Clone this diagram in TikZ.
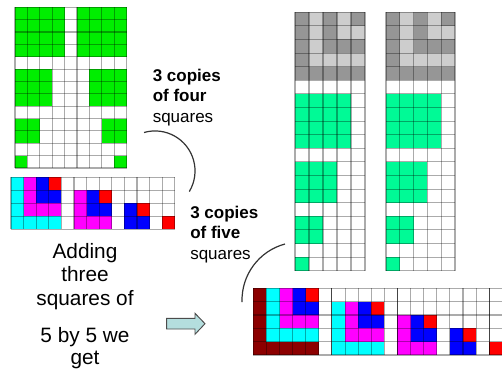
\documentclass[tikz,border=0pt]{standalone}
\usepackage{fontspec}
\setmainfont{Liberation Sans}

\definecolor{sqgreen}{RGB}{0,238,0}
\definecolor{sqmint}{RGB}{0,250,150}
\definecolor{stair1}{RGB}{255,0,0}
\definecolor{stair2}{RGB}{0,0,255}
\definecolor{stair3}{RGB}{255,0,255}
\definecolor{stair4}{RGB}{0,255,255}
\definecolor{stair5}{RGB}{140,0,0}
\definecolor{shade1}{RGB}{150,150,150}
\definecolor{shade2}{RGB}{205,205,205}
\definecolor{shade3}{RGB}{150,150,150}
\definecolor{shade4}{RGB}{205,205,205}
\definecolor{shade5}{RGB}{150,150,150}
\definecolor{arrowfill}{RGB}{180,222,222}

% nested squares, top right corner at column #1, row #2
\newcommand{\stairs}[4]{%
  \foreach \m in {#3,...,1}
    \fill[fill=#4\m] ({#1-\m},-#2) rectangle (#1,{-#2-\m});
}
% lines of a #1 x #2 grid
\newcommand{\cellgrid}[2]{%
  \foreach \i in {0,...,#1}
    \draw[gridline] (\i,0) -- (\i,-#2);
  \foreach \j in {0,...,#2}
    \draw[gridline] (0,-\j) -- (#1,-\j);
}

\tikzset{
  gridline/.style={draw=black, draw opacity=0.33, line width=0.8pt},
  note/.style={align=left, inner sep=0pt,
    font=\fontsize{12.75}{15.4}\selectfont},
  bignote/.style={align=center, inner sep=0pt,
    font=\fontsize{15.6}{17.5}\selectfont},
  link/.style={draw=black!80, line width=0.9pt},
  blockarrow/.style={draw=black!70, fill=arrowfill, line width=0.7pt}
}

\begin{document}
\begin{tikzpicture}[x=0.75pt, y=0.75pt]
\useasboundingbox (0,0) rectangle (502,-374);
\clip (0,0) rectangle (502,-374);

% two copies of four squares
\begin{scope}[shift={(15,-7.3)}, x=9.3pt, y=9.27pt]
  \fill[sqgreen] (0,0) rectangle (4,-4);
  \fill[sqgreen] (5,0) rectangle (9,-4);
  \fill[sqgreen] (0,-5) rectangle (3,-8);
  \fill[sqgreen] (6,-5) rectangle (9,-8);
  \fill[sqgreen] (0,-9) rectangle (2,-11);
  \fill[sqgreen] (7,-9) rectangle (9,-11);
  \fill[sqgreen] (0,-12) rectangle (1,-13);
  \fill[sqgreen] (8,-12) rectangle (9,-13);
  \cellgrid{9}{13}
\end{scope}

% third copy as staircases
\begin{scope}[shift={(11,-177.3)}, x=9.45pt, y=9.7pt]
  \stairs{4}{0}{4}{stair}
  \stairs{8}{1}{3}{stair}
  \stairs{11}{2}{2}{stair}
  \stairs{13}{3}{1}{stair}
  \cellgrid{13}{4}
\end{scope}

% tall columns
\foreach \xo/\w in {295/10.5, 386/10.35}{
  \begin{scope}[shift={(\xo,-12.3)}, x=\w pt, y=10.2pt]
    \stairs{5}{0}{5}{shade}
    \fill[sqmint] (0,-6) rectangle (4,-10);
    \fill[sqmint] (0,-11) rectangle (3,-14);
    \fill[sqmint] (0,-15) rectangle (2,-17);
    \fill[sqmint] (0,-18) rectangle (1,-19);
    \cellgrid{5}{19}
  \end{scope}
}

% three copies of five squares
\begin{scope}[shift={(253.3,-288.3)}, x=9.83pt, y=10pt]
  \stairs{5}{0}{5}{stair}
  \stairs{10}{1}{4}{stair}
  \stairs{14}{2}{3}{stair}
  \stairs{17}{3}{2}{stair}
  \stairs{19}{4}{1}{stair}
  \cellgrid{19}{5}
  \foreach \i in {6,11,18}
    \draw[gridline, draw opacity=0.6] (\i,0) -- (\i,-5);
\end{scope}

% base anchor sits on the last line
\node[note, anchor=base west] (four) at (152.5,-122.5)
  {\textbf{3 copies}\\\textbf{of four}\\squares};
\node[note, anchor=base west] (five) at (190,-259.5)
  {\textbf{3 copies}\\\textbf{of five}\\squares};
\node[bignote, anchor=base] (adding) at (85,-305)
  {Adding\\three\\squares of};
\node[bignote, anchor=base, font=\fontsize{15.6}{15.8}\selectfont]
  (bysize) at (85,-364) {5 by 5 we\\get};

\coordinate (fourend) at (144,-132.5);
\coordinate (fiveend) at (285,-244);
\draw[link] (fourend) arc[start angle=106, end angle=-31, radius=40];
\draw[link] (fiveend) arc[start angle=105, end angle=182, radius=58];

\draw[blockarrow] (166.7,-318.3) -- (195,-318.3) -- (195,-313.3)
  -- (205,-323.7) -- (195,-334.3) -- (195,-329) -- (166.7,-329) -- cycle;

\end{tikzpicture}
\end{document}
